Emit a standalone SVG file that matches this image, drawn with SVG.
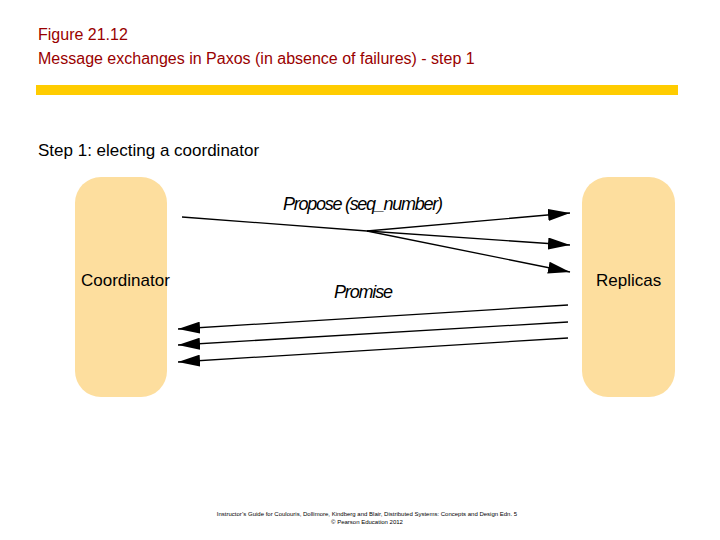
<svg xmlns="http://www.w3.org/2000/svg" width="720" height="540" viewBox="0 0 720 540">
<style>
.t{font-family:"Liberation Sans",Arial,sans-serif;fill:#000}
.h{fill:#990000;font-size:16px}
.box{fill:#FDDE9E}
.ln{stroke:#000;stroke-width:1.3;fill:none}
.lab{font-family:"Liberation Sans",Arial,sans-serif;font-style:italic;font-size:17px;transform-box:fill-box}
</style>
<defs>
<marker id="ah" markerWidth="22" markerHeight="12" refX="22" refY="6" orient="auto" markerUnits="userSpaceOnUse">
<path d="M0,0 L22,6 L0,12 Z" fill="#000"/>
</marker>
</defs>
<rect width="720" height="540" fill="#fff"/>
<text class="t h" x="38" y="40">Figure 21.12</text>
<text class="t h" x="38" y="64">Message exchanges in Paxos (in absence of failures) - step 1</text>
<rect x="36" y="85" width="642" height="10" fill="#FFCC00"/>
<text class="t" x="38" y="156" font-size="17">Step 1: electing a coordinator</text>
<g id="coordinator">
<rect class="box" x="75" y="177" width="92" height="220" rx="26"/>
<text class="t" x="81" y="286" font-size="17">Coordinator</text>
</g>
<g id="replicas">
<rect class="box" x="582" y="177" width="93" height="220" rx="26"/>
<text class="t" x="596" y="286" font-size="17">Replicas</text>
</g>
<g id="connectors">
<path class="ln" d="M182,217 L367,231 L570,213" marker-end="url(#ah)"/>
<path class="ln" d="M367,231 L570,245" marker-end="url(#ah)"/>
<path class="ln" d="M367,231 L570,272" marker-end="url(#ah)"/>
<path class="ln" d="M568,305 L178,329" marker-end="url(#ah)"/>
<path class="ln" d="M568,322 L178,345" marker-end="url(#ah)"/>
<path class="ln" d="M568,338 L178,362" marker-end="url(#ah)"/>
<text x="283" y="210" font-family="Liberation Sans Narrow,Liberation Sans,sans-serif" font-style="italic" font-size="18" textLength="160">Propose (seq_number)</text>
<text x="334" y="298" font-family="Liberation Sans Narrow,Liberation Sans,sans-serif" font-style="italic" font-size="18" textLength="59">Promise</text>
</g>
<text class="t" x="367" y="516" font-size="6" text-anchor="middle" font-family="Liberation Serif,serif">Instructor’s Guide for  Coulouris, Dollimore, Kindberg and Blair,  Distributed Systems: Concepts and Design   Edn. 5</text>
<text class="t" x="367" y="524" font-size="6" text-anchor="middle">© Pearson Education 2012</text>
</svg>
